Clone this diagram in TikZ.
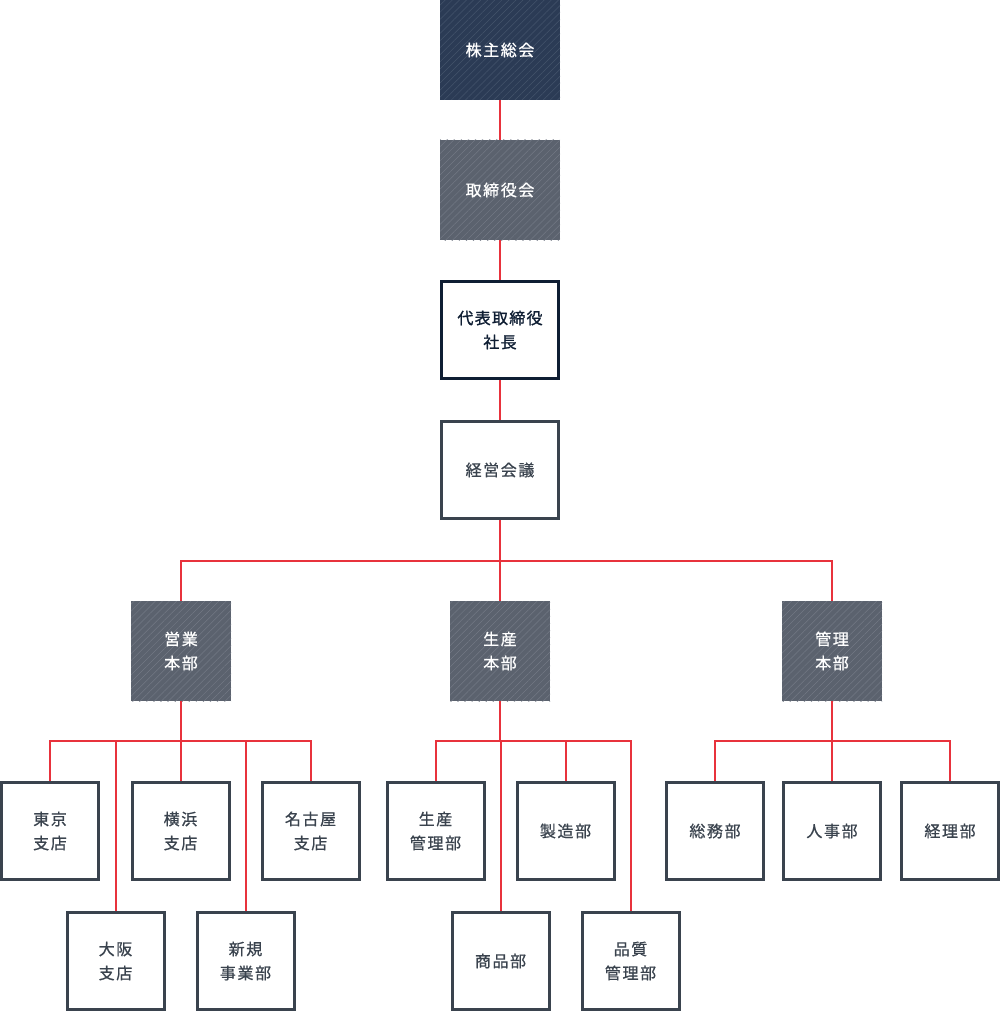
\documentclass[tikz,border=0pt]{standalone}
\usepackage{fontspec}
\setmainfont{Noto Sans CJK JP}[LetterSpace=10,FakeBold=0.8]
\newfontfamily\presfont{Noto Sans CJK JP}[LetterSpace=8,FakeBold=1.2]
\usetikzlibrary{patterns.meta}
\definecolor{navyfill}{HTML}{2B3B55}
\definecolor{navyhatch}{HTML}{44546C}
\definecolor{grayfill}{HTML}{5B626E}
\definecolor{grayhatch}{HTML}{737985}
\definecolor{boxline}{HTML}{3A434E}
\definecolor{navyline}{HTML}{0F1E33}
\definecolor{linkred}{HTML}{E8323C}
\tikzset{
  x=1pt, y=-1pt,
  every node/.style={font=\fontsize{16}{24}\selectfont, align=center, inner sep=0pt},
  navybox/.style={minimum width=120pt, minimum height=100pt, text=white,
    preaction={fill=navyfill}, pattern={Lines[angle=45,distance=5pt,line width=0.5pt]}, pattern color=navyhatch},
  graybig/.style={minimum width=120pt, minimum height=100pt, text=white,
    preaction={fill=grayfill}, pattern={Lines[angle=45,distance=5pt,line width=0.5pt]}, pattern color=grayhatch},
  graysmall/.style={minimum width=100pt, minimum height=100pt, text=white,
    preaction={fill=grayfill}, pattern={Lines[angle=45,distance=5pt,line width=0.5pt]}, pattern color=grayhatch},
  presbox/.style={draw=navyline, line width=3pt, fill=white, minimum width=117pt, minimum height=97pt, text=navyline, font=\fontsize{16}{24}\selectfont\presfont},
  wideplain/.style={draw=boxline, line width=3pt, fill=white, minimum width=117pt, minimum height=97pt, text=boxline},
  plainbox/.style={draw=boxline, line width=3pt, fill=white, minimum width=97pt, minimum height=97pt, text=boxline},
  link/.style={draw=linkred, line width=2pt}
}
\begin{document}
\begin{tikzpicture}
\useasboundingbox (0,0) rectangle (1000,1011);
\coordinate (bus1) at (500,561);
\coordinate (busA) at (181,741);
\coordinate (busB) at (500,741);
\coordinate (busC) at (832,741);

\node[navybox] (kabu) at (500,50) {株主総会};
\node[graybig] (tori) at (500,190) {取締役会};
\node[presbox] (pres) at (500,330) {代表取締役\\社長};
\node[wideplain] (kaigi) at (500,470) {経営会議};

\node[graysmall] (eigyo) at (181,651) {営業\\本部};
\node[graysmall] (seisan) at (500,651) {生産\\本部};
\node[graysmall] (kanri) at (832,651) {管理\\本部};

\node[plainbox] (tokyo) at (50,831) {東京\\支店};
\node[plainbox] (yoko) at (180.5,831) {横浜\\支店};
\node[plainbox] (nago) at (310.5,831) {名古屋\\支店};
\node[plainbox] (osaka) at (115.5,961) {大阪\\支店};
\node[plainbox] (shinki) at (245.5,961) {新規\\事業部};

\node[plainbox] (skanri) at (435.5,831) {生産\\管理部};
\node[plainbox] (seizo) at (565.5,831) {製造部};
\node[plainbox] (shohin) at (500.5,961) {商品部};
\node[plainbox] (hinshitsu) at (630.5,961) {品質\\管理部};

\node[plainbox] (somu) at (715,831) {総務部};
\node[plainbox] (jinji) at (832,831) {人事部};
\node[plainbox] (keiri) at (950,831) {経理部};

\draw[link] (kabu.south) -- (tori.north);
\draw[link] (tori.south) -- (pres.north);
\draw[link] (pres.south) -- (kaigi.north);
\draw[link] (kaigi.south) -- (bus1);
\draw[link] (eigyo.north) |- (bus1) -| (kanri.north);
\draw[link] (bus1) -- (seisan.north);

\draw[link] (eigyo.south) -- (busA);
\draw[link] (tokyo.north) |- (busA) -| (nago.north);
\draw[link] (yoko.north) -- (yoko.north |- busA);
\draw[link] (osaka.north) -- (osaka.north |- busA);
\draw[link] (shinki.north) -- (shinki.north |- busA);

\draw[link] (seisan.south) -- (busB);
\draw[link] (skanri.north) |- (busB) -| (hinshitsu.north);
\draw[link] (seizo.north) -- (seizo.north |- busB);
\draw[link] (shohin.north) -- (shohin.north |- busB);

\draw[link] (kanri.south) -- (busC);
\draw[link] (somu.north) |- (busC) -| (keiri.north);
\draw[link] (jinji.north) -- (jinji.north |- busC);
\end{tikzpicture}
\end{document}
